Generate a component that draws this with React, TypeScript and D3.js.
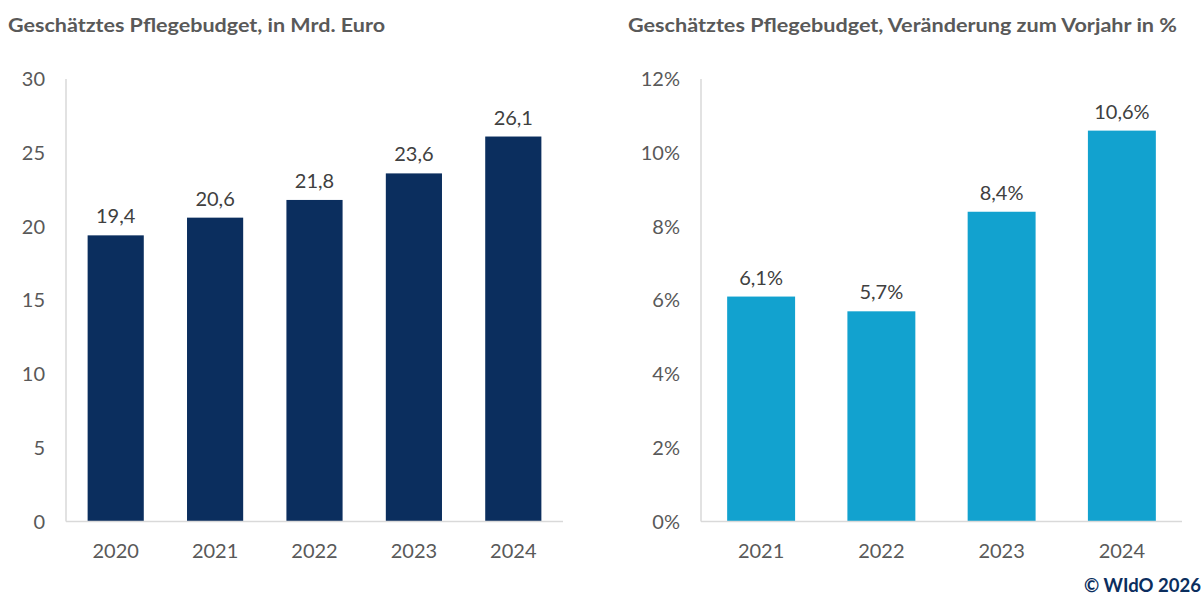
import React from "react";
import * as d3 from "d3";

const yearsLeft = ["2020", "2021", "2022", "2023", "2024"];
const budgetValues = [19.4, 20.6, 21.8, 23.6, 26.1];
const leftTicks = [0, 5, 10, 15, 20, 25, 30];

const yearsRight = ["2021", "2022", "2023", "2024"];
const changeValues = [6.1, 5.7, 8.4, 10.6];
const rightTicks = [0, 2, 4, 6, 8, 10, 12];

const titleLeft = "Geschätztes Pflegebudget, in Mrd. Euro";
const titleRight = "Geschätztes Pflegebudget, Veränderung zum Vorjahr in %";
const copyright = "© WIdO 2026";

const FONT = "Lato, 'Open Sans', sans-serif";
const W = 1204;
const H = 596;
const TOP = 79;
const BASE = 521.5;

const fmt = (v: number) => v.toFixed(1).replace(".", ",");

type PanelProps = {
  cats: string[];
  vals: number[];
  ticks: number[];
  max: number;
  x0: number;
  x1: number;
  color: string;
  tickFmt: (v: number) => string;
  labelFmt: (v: number) => string;
};

function Panel({ cats, vals, ticks, max, x0, x1, color, tickFmt, labelFmt }: PanelProps) {
  const x = d3.scaleBand<string>().domain(cats).range([x0, x1]).paddingInner(0.435).paddingOuter(0.2175);
  const y = d3.scaleLinear().domain([0, max]).range([BASE, TOP]);
  return (
    <g>
      {ticks.map((t) => (
        <text
          key={t}
          x={x0 - 21}
          y={y(t)}
          dy="0.35em"
          textAnchor="end"
          fontFamily={FONT}
          fontSize={20}
          fill="#595959"
        >
          {tickFmt(t)}
        </text>
      ))}
      <line x1={x0} x2={x0} y1={TOP} y2={BASE} stroke="#d9d9d9" strokeWidth={1.5} />
      {cats.map((c, i) => (
        <g key={c}>
          <rect x={x(c)} y={y(vals[i])} width={x.bandwidth()} height={BASE - y(vals[i])} fill={color} />
          <text
            x={(x(c) as number) + x.bandwidth() / 2}
            y={y(vals[i]) - 12}
            textAnchor="middle"
            fontFamily={FONT}
            fontSize={20}
            fill="#404040"
          >
            {labelFmt(vals[i])}
          </text>
          <text
            x={(x(c) as number) + x.bandwidth() / 2}
            y={558}
            textAnchor="middle"
            fontFamily={FONT}
            fontSize={20}
            fill="#595959"
          >
            {c}
          </text>
        </g>
      ))}
      <line x1={x0} x2={x1} y1={BASE} y2={BASE} stroke="#d9d9d9" strokeWidth={1.5} />
    </g>
  );
}

export default function App() {
  return (
    <svg width={W} height={H} style={{ position: "absolute", left: 0, top: 0 }}>
      <rect width={W} height={H} fill="#ffffff" />
      <text
        x={8}
        y={32}
        fontFamily={FONT}
        fontWeight="bold"
        fontSize={19}
        fill="#595959"
        textLength={377}
        lengthAdjust="spacingAndGlyphs"
      >
        {titleLeft}
      </text>
      <text
        x={628}
        y={32}
        fontFamily={FONT}
        fontWeight="bold"
        fontSize={19}
        fill="#595959"
        textLength={549}
        lengthAdjust="spacingAndGlyphs"
      >
        {titleRight}
      </text>
      <Panel
        cats={yearsLeft}
        vals={budgetValues}
        ticks={leftTicks}
        max={30}
        x0={66}
        x1={563}
        color="#0B2E5E"
        tickFmt={(v) => String(v)}
        labelFmt={fmt}
      />
      <Panel
        cats={yearsRight}
        vals={changeValues}
        ticks={rightTicks}
        max={12}
        x0={701}
        x1={1182}
        color="#12A2CF"
        tickFmt={(v) => `${v}%`}
        labelFmt={(v) => `${fmt(v)}%`}
      />
      <text
        x={1201}
        y={592}
        textAnchor="end"
        fontFamily={FONT}
        fontWeight="bold"
        fontSize={18.5}
        fill="#0B2E5E"
      >
        {copyright}
      </text>
    </svg>
  );
}
